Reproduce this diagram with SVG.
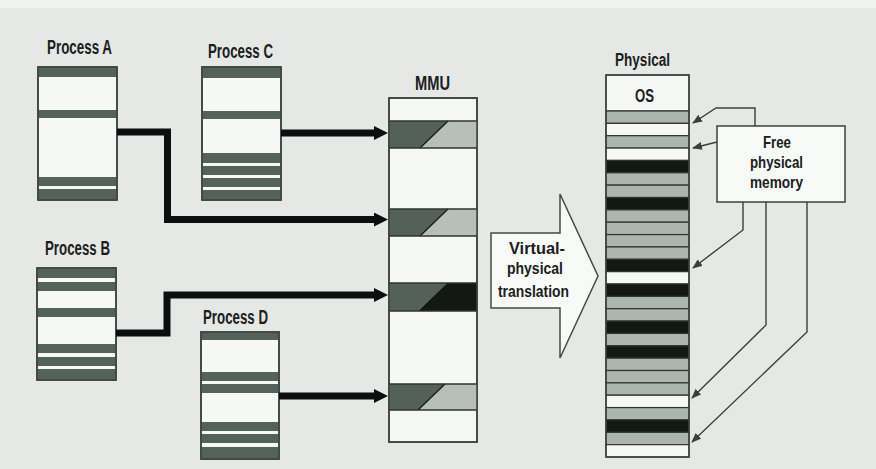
<svg xmlns="http://www.w3.org/2000/svg" width="876" height="469" viewBox="0 0 876 469">
<style>
  .lbl{font-family:"Liberation Sans",Arial,sans-serif;font-weight:bold;fill:#1b201d}
  .box{fill:#f6f8f6;stroke:#3a423e;stroke-width:1.5}
  .ds{fill:#55625b}
  .row{stroke:#2e3430;stroke-width:1.2}
  .g{fill:#adb5af}
  .w{fill:#f6f8f6}
  .b{fill:#131815}
  .mdark{fill:#53615a}
  .mlight{fill:#b8bfb9}
  .diag{stroke:#1b201d;stroke-width:1.5;fill:none}
  .thick{fill:none;stroke:#0d0f0e;stroke-width:7;stroke-linejoin:miter}
  .thin{fill:none;stroke:#3b403d;stroke-width:1.4}
</style>
<defs>
  <marker id="ah" markerUnits="userSpaceOnUse" viewBox="0 0 14 14" markerWidth="14" markerHeight="14" refX="0" refY="7" orient="auto">
    <path d="M0,0 L14,7 L0,14 Z" fill="#0d0f0e"/>
  </marker>
  <marker id="ta" markerUnits="userSpaceOnUse" viewBox="0 0 10 8" markerWidth="10" markerHeight="8" refX="9" refY="4" orient="auto">
    <path d="M0,0 L10,4 L0,8 Z" fill="#3b403d"/>
  </marker>
</defs>
<rect x="0" y="0" width="876" height="469" fill="#e5e8e5"/>
<rect x="0" y="0" width="876" height="8" fill="#f1f3f1"/>

<g id="processA">
  <rect class="box" x="38" y="67" width="79" height="133"/>
  <rect class="ds" x="38" y="67" width="79" height="10"/>
  <rect class="ds" x="38" y="110" width="79" height="8"/>
  <rect class="ds" x="38" y="177" width="79" height="9"/>
  <rect class="ds" x="38" y="189" width="79" height="11"/>
  <rect x="38" y="67" width="79" height="133" fill="none" stroke="#3a423e" stroke-width="1.5"/>
  <text class="lbl" x="47" y="54" font-size="20" textLength="65" lengthAdjust="spacingAndGlyphs">Process A</text>
</g>

<g id="processC">
  <rect class="box" x="202" y="67" width="79" height="133"/>
  <rect class="ds" x="202" y="67" width="79" height="11"/>
  <rect class="ds" x="202" y="111" width="79" height="8"/>
  <rect class="ds" x="202" y="153" width="79" height="10"/>
  <rect class="ds" x="202" y="166" width="79" height="9"/>
  <rect class="ds" x="202" y="178" width="79" height="9"/>
  <rect class="ds" x="202" y="190" width="79" height="10"/>
  <rect x="202" y="67" width="79" height="133" fill="none" stroke="#3a423e" stroke-width="1.5"/>
  <text class="lbl" x="208" y="58" font-size="20" textLength="65" lengthAdjust="spacingAndGlyphs">Process C</text>
</g>

<g id="processB">
  <rect class="box" x="37" y="268" width="79" height="112"/>
  <rect class="ds" x="37" y="268" width="79" height="10"/>
  <rect class="ds" x="37" y="282" width="79" height="9"/>
  <rect class="ds" x="37" y="308" width="79" height="9"/>
  <rect class="ds" x="37" y="344" width="79" height="9"/>
  <rect class="ds" x="37" y="357" width="79" height="9"/>
  <rect class="ds" x="37" y="369" width="79" height="11"/>
  <rect x="37" y="268" width="79" height="112" fill="none" stroke="#3a423e" stroke-width="1.5"/>
  <text class="lbl" x="45" y="255" font-size="20" textLength="65" lengthAdjust="spacingAndGlyphs">Process B</text>
</g>

<g id="processD">
  <rect class="box" x="201" y="332" width="78" height="127"/>
  <rect class="ds" x="201" y="332" width="78" height="8"/>
  <rect class="ds" x="201" y="372" width="78" height="9"/>
  <rect class="ds" x="201" y="384" width="78" height="9"/>
  <rect class="ds" x="201" y="422" width="78" height="9"/>
  <rect class="ds" x="201" y="434" width="78" height="9"/>
  <rect class="ds" x="201" y="447" width="78" height="12"/>
  <rect x="201" y="332" width="78" height="127" fill="none" stroke="#3a423e" stroke-width="1.5"/>
  <text class="lbl" x="203" y="324" font-size="20" textLength="65" lengthAdjust="spacingAndGlyphs">Process D</text>
</g>

<g id="mmu">
  <rect class="box" x="389" y="98" width="88" height="344"/>
  <polygon class="mdark" points="389,121 448,121 420,148 389,148"/>
  <polygon class="mlight" points="448,121 477,121 477,148 420,148"/>
  <line class="diag" x1="448" y1="121" x2="420" y2="148"/>
  <polygon class="mdark" points="389,209 448,209 420,236 389,236"/>
  <polygon class="mlight" points="448,209 477,209 477,236 420,236"/>
  <line class="diag" x1="448" y1="209" x2="420" y2="236"/>
  <polygon class="mdark" points="389,283 447,283 418,311 389,311"/>
  <polygon class="b" points="447,283 477,283 477,311 418,311"/>
  <polygon class="mdark" points="389,384 445,384 418,410 389,410"/>
  <polygon class="mlight" points="445,384 477,384 477,410 418,410"/>
  <line class="diag" x1="445" y1="384" x2="418" y2="410"/>
  <g stroke="#2e3430" stroke-width="1.3">
    <line x1="389" y1="121" x2="477" y2="121"/><line x1="389" y1="148" x2="477" y2="148"/>
    <line x1="389" y1="209" x2="477" y2="209"/><line x1="389" y1="236" x2="477" y2="236"/>
    <line x1="389" y1="283" x2="477" y2="283"/><line x1="389" y1="311" x2="477" y2="311"/>
    <line x1="389" y1="384" x2="477" y2="384"/><line x1="389" y1="410" x2="477" y2="410"/>
  </g>
  <rect x="389" y="98" width="88" height="344" fill="none" stroke="#3a423e" stroke-width="1.5"/>
  <text class="lbl" x="415" y="90" font-size="20" textLength="35" lengthAdjust="spacingAndGlyphs">MMU</text>
</g>

<g id="translation">
  <polygon points="491,233 560,233 560,194 598,276 560,358 560,308 491,308" fill="#f8faf8" stroke="#444a46" stroke-width="1.5"/>
  <text class="lbl" x="509" y="254" font-size="17" textLength="56" lengthAdjust="spacingAndGlyphs">Virtual-</text>
  <text class="lbl" x="507" y="274" font-size="17" textLength="56" lengthAdjust="spacingAndGlyphs">physical</text>
  <text class="lbl" x="498" y="297" font-size="17" textLength="71" lengthAdjust="spacingAndGlyphs">translation</text>
</g>

<g id="physical">
  <rect class="w row" x="606" y="75" width="83" height="36"/>
  <rect class="g row" x="606" y="111" width="83" height="12.36"/>
  <rect class="w row" x="606" y="123.36" width="83" height="12.36"/>
  <rect class="g row" x="606" y="135.71" width="83" height="12.36"/>
  <rect class="w row" x="606" y="148.07" width="83" height="12.36"/>
  <rect class="b row" x="606" y="160.43" width="83" height="12.36"/>
  <rect class="g row" x="606" y="172.79" width="83" height="12.36"/>
  <rect class="g row" x="606" y="185.14" width="83" height="12.36"/>
  <rect class="b row" x="606" y="197.5" width="83" height="12.36"/>
  <rect class="g row" x="606" y="209.86" width="83" height="12.36"/>
  <rect class="g row" x="606" y="222.21" width="83" height="12.36"/>
  <rect class="g row" x="606" y="234.57" width="83" height="12.36"/>
  <rect class="g row" x="606" y="246.93" width="83" height="12.36"/>
  <rect class="b row" x="606" y="259.29" width="83" height="12.36"/>
  <rect class="w row" x="606" y="271.64" width="83" height="12.36"/>
  <rect class="b row" x="606" y="284" width="83" height="12.36"/>
  <rect class="g row" x="606" y="296.36" width="83" height="12.36"/>
  <rect class="g row" x="606" y="308.71" width="83" height="12.36"/>
  <rect class="b row" x="606" y="321.07" width="83" height="12.36"/>
  <rect class="g row" x="606" y="333.43" width="83" height="12.36"/>
  <rect class="b row" x="606" y="345.79" width="83" height="12.36"/>
  <rect class="g row" x="606" y="358.14" width="83" height="12.36"/>
  <rect class="g row" x="606" y="370.5" width="83" height="12.36"/>
  <rect class="g row" x="606" y="382.86" width="83" height="12.36"/>
  <rect class="w row" x="606" y="395.21" width="83" height="12.36"/>
  <rect class="g row" x="606" y="407.57" width="83" height="12.36"/>
  <rect class="b row" x="606" y="419.93" width="83" height="12.36"/>
  <rect class="g row" x="606" y="432.29" width="83" height="12.36"/>
  <rect class="w row" x="606" y="444.64" width="83" height="12.36"/>
  <rect x="606" y="75" width="83" height="382" fill="none" stroke="#3a423e" stroke-width="1.5"/>
  <text class="lbl" x="615" y="66" font-size="18" textLength="55" lengthAdjust="spacingAndGlyphs">Physical</text>
  <text class="lbl" x="635" y="102" font-size="19" textLength="19" lengthAdjust="spacingAndGlyphs">OS</text>
</g>

<g id="freeMemory">
  <rect x="717" y="126" width="128" height="76" fill="#f8faf8" stroke="#3a423e" stroke-width="1.5"/>
  <text class="lbl" x="763" y="148" font-size="17" textLength="28" lengthAdjust="spacingAndGlyphs">Free</text>
  <text class="lbl" x="750" y="168" font-size="17" textLength="53" lengthAdjust="spacingAndGlyphs">physical</text>
  <text class="lbl" x="750" y="188" font-size="17" textLength="53" lengthAdjust="spacingAndGlyphs">memory</text>
</g>

<g id="connectors">
  <path class="thick" d="M117,132 H167.5 V219.5 H374" marker-end="url(#ah)"/>
  <path class="thick" d="M281,133 H374" marker-end="url(#ah)"/>
  <path class="thick" d="M116,333 H167 V295 H374" marker-end="url(#ah)"/>
  <path class="thick" d="M279,396 H374" marker-end="url(#ah)"/>
  <path class="thin" d="M755,126 V108 H716 L693,123" marker-end="url(#ta)"/>
  <path class="thin" d="M717,142 L693,148" marker-end="url(#ta)"/>
  <path class="thin" d="M743,202 V230 L693,268" marker-end="url(#ta)"/>
  <path class="thin" d="M766,202 V325 L692,398" marker-end="url(#ta)"/>
  <path class="thin" d="M807,202 V332 L692,442" marker-end="url(#ta)"/>
</g>
</svg>
